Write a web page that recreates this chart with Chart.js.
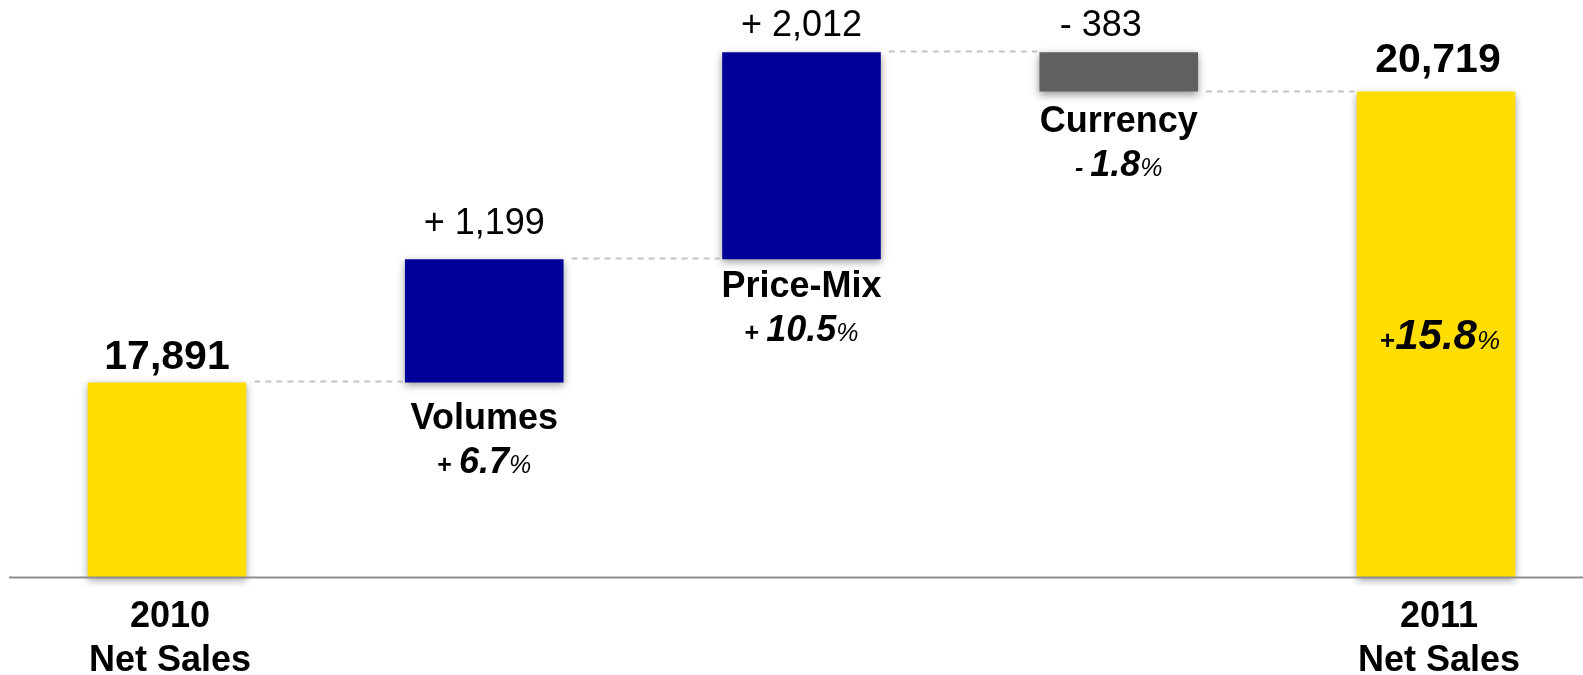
<!DOCTYPE html>
<html>
<head>
<meta charset="utf-8">
<title>Net Sales 2010 - 2011</title>
<script src="https://cdn.jsdelivr.net/npm/chart.js@4/dist/chart.umd.min.js"></script>
<style>
  html, body { margin: 0; padding: 0; background: #fff; overflow: hidden; }
  .chart-wrap { position: relative; width: 1583px; height: 675px; }
</style>
</head>
<body>
<div class="chart-wrap"><canvas id="netSalesBridge"></canvas></div>
<script>
// bridge values
const categories = [['2010', 'Net Sales'], 'Volumes', 'Price-Mix', 'Currency', ['2011', 'Net Sales']];
const netSales2010 = 17891;
const netSales2011 = 20719;
const changes = [1199, 2012, -383];       // Volumes, Price-Mix, Currency
const changePct = [6.7, 10.5, -1.8];
const totalPct = 15.8;
const axisMin = 16000;
const axisMax = 21600;

const YELLOW = '#FFDD00';
const BLUE = '#000099';
const GREY = '#606060';
const FONT = "'Liberation Sans', Arial, sans-serif";

// floating bars: totals start at the axis floor, changes start at the running level
const bars = [[axisMin, netSales2010]];
const levels = [netSales2010];
let running = netSales2010;
changes.forEach((c) => {
  bars.push([running, running + c]);
  running += c;
  levels.push(running);
});
bars.push([axisMin, netSales2011]);

const barColors = bars.map((b, i) => {
  if (i === 0 || i === bars.length - 1) return YELLOW;
  return changes[i - 1] < 0 ? GREY : BLUE;
});

// hand placement of the printed numbers: gap above bar top, sideways nudge
const valueGap = [13, 25, 16, 16, 20];
const valueNudge = [0, 0, 0, -18, 2];
const nameGap = [0, 47, 38, 40, 0];

const fmt = (n) => Math.abs(n).toLocaleString('en-US');

function drawRuns(ctx, runs, cx, baseline) {
  let total = 0;
  runs.forEach((r) => {
    ctx.font = r.font;
    r.w = ctx.measureText(r.text).width;
    total += r.w;
  });
  let x = cx - total / 2;
  ctx.textAlign = 'left';
  runs.forEach((r) => {
    ctx.font = r.font;
    ctx.fillText(r.text, x, baseline);
    x += r.w;
  });
}

function pctRuns(v, big) {
  const signFont = big ? `bold 26px ${FONT}` : `bold 25px ${FONT}`;
  const numFont = big ? `italic bold 42px ${FONT}` : `italic bold 36px ${FONT}`;
  const pctFont = big ? `italic 26px ${FONT}` : `italic 25px ${FONT}`;
  const sign = v < 0 ? '- ' : (big ? '+' : '+ ');
  return [
    { text: sign, font: v < 0 ? `italic ${signFont}` : signFont },
    { text: Math.abs(v).toFixed(1), font: numFont },
    { text: '%', font: pctFont }
  ];
}

const bridgeLabels = {
  id: 'bridgeLabels',
  beforeDatasetsDraw(chart) {
    const ctx = chart.ctx;
    ctx.save();
    ctx.shadowColor = 'rgba(0, 0, 0, 0.4)';
    ctx.shadowBlur = 8;
    ctx.shadowOffsetX = 0;
    ctx.shadowOffsetY = 3;
  },
  afterDatasetsDraw(chart) {
    const ctx = chart.ctx;
    ctx.restore();

    const y = chart.scales.y;
    const area = chart.chartArea;
    const els = chart.getDatasetMeta(0).data;

    // base line
    ctx.save();
    ctx.strokeStyle = '#8e8e8e';
    ctx.lineWidth = 2;
    ctx.beginPath();
    ctx.moveTo(9, area.bottom + 0.5);
    ctx.lineTo(chart.width, area.bottom + 0.5);
    ctx.stroke();

    // dashed connectors between steps
    ctx.strokeStyle = '#c4c4c4';
    ctx.lineWidth = 2;
    ctx.setLineDash([6, 5]);
    levels.forEach((lvl, i) => {
      const a = els[i];
      const b = els[i + 1];
      const ly = Math.round(y.getPixelForValue(lvl)) - 0.5;
      ctx.beginPath();
      ctx.moveTo(a.x + a.width / 2 + 8, ly);
      ctx.lineTo(b.x - b.width / 2 - 2, ly);
      ctx.stroke();
    });
    ctx.setLineDash([]);

    ctx.fillStyle = '#000';
    ctx.textBaseline = 'alphabetic';
    els.forEach((el, i) => {
      const top = Math.min(el.y, el.base);
      const bottom = Math.max(el.y, el.base);
      const cx = el.x;
      const isTotal = i === 0 || i === els.length - 1;

      // value above the bar
      ctx.textAlign = 'center';
      if (isTotal) {
        ctx.font = `bold 41px ${FONT}`;
        ctx.fillText(fmt(bars[i][1]), cx + valueNudge[i], top - valueGap[i]);
      } else {
        const c = changes[i - 1];
        ctx.font = `36px ${FONT}`;
        ctx.fillText((c < 0 ? '- ' : '+ ') + fmt(c), cx + valueNudge[i], top - valueGap[i]);
      }

      const label = categories[i];
      if (Array.isArray(label)) {
        // totals are named under the axis
        ctx.font = `bold 36px ${FONT}`;
        ctx.fillText(label[0], cx + 3, area.bottom + 50);
        ctx.fillText(label[1], cx + 3, area.bottom + 94);
      } else {
        ctx.font = `bold 36px ${FONT}`;
        ctx.fillText(label, cx, bottom + nameGap[i]);
        drawRuns(ctx, pctRuns(changePct[i - 1], false), cx, bottom + nameGap[i] + 44);
      }
    });

    // overall growth inside the 2011 bar
    const last = els[els.length - 1];
    const mid = (Math.min(last.y, last.base) + Math.max(last.y, last.base)) / 2;
    drawRuns(ctx, pctRuns(totalPct, true), last.x + 4, mid + 15);
    ctx.restore();
  }
};

new Chart(document.getElementById('netSalesBridge'), {
  type: 'bar',
  data: {
    labels: categories,
    datasets: [{
      data: bars,
      backgroundColor: barColors,
      borderWidth: 0,
      categoryPercentage: 1,
      barPercentage: 0.5,
      clip: false
    }]
  },
  options: {
    responsive: true,
    maintainAspectRatio: false,
    animation: false,
    layout: {
      padding: { left: 167, right: 147, top: 1, bottom: 98 }
    },
    plugins: {
      legend: { display: false },
      tooltip: { enabled: false }
    },
    scales: {
      x: {
        display: false,
        offset: false
      },
      y: {
        display: false,
        min: axisMin,
        max: axisMax
      }
    }
  },
  plugins: [bridgeLabels]
});
</script>
</body>
</html>
